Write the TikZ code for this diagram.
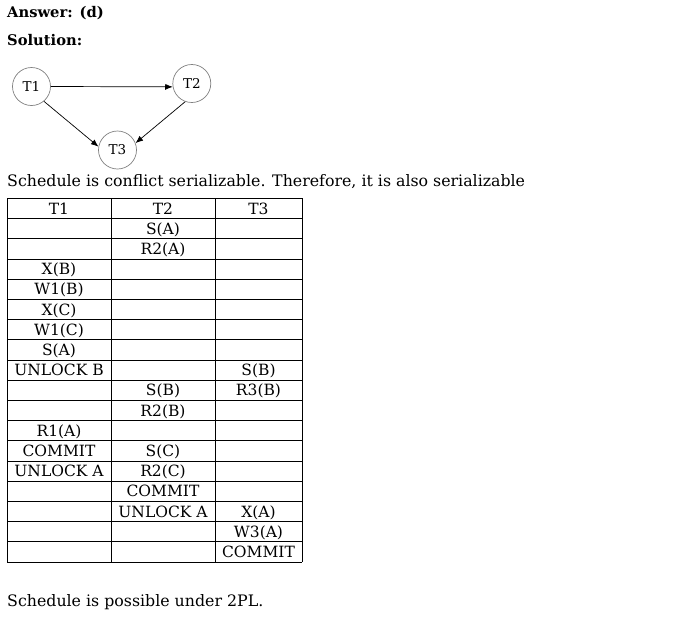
\documentclass[tikz,border=0pt]{standalone}
\usepackage{fontspec}
\setmainfont{DejaVu Serif}
\usetikzlibrary{positioning, arrows.meta}

\tikzset{
  txn/.style={circle, draw=black!50, line width=0.7pt, minimum size=38pt, inner sep=0pt, font=\fontsize{13.5}{16}\selectfont},
  para/.style={anchor=base west, inner sep=0pt, font=\fontsize{15.8}{18}\selectfont},
  head/.style={para, font=\bfseries\fontsize{14.7}{18}\selectfont},
  cell/.style={anchor=base, inner sep=0pt, font=\fontsize{15.5}{18}\selectfont},
}

\begin{document}
\begin{tikzpicture}[x=1pt, y=-1pt, >={Latex[length=7.5pt,width=6pt]}]
\useasboundingbox (0,0) rectangle (678,619);

% Text
\node[head] (answer) at (7,17) {Answer: (d)};
\node[head] (solution) at (7,45) {Solution:};
\node[para] (conflict) at (7,186) {Schedule is conflict serializable. Therefore, it is also serializable};
\node[para] (twopl) at (7,606) {Schedule is possible under 2PL.};

% Nodes
\node[txn] (T1) at (31.5,86.5) {T1};
\node[txn] (T2) at (191.8,83.5) {T2};
\node[txn] (T3) at (117.5,150) {T3};

% Arrows
\draw[->, line width=0.7pt] (T1.east) -- (T2.190);
\draw[->, line width=0.7pt] (T1.-50) -- (T3.170);
\draw[->, line width=0.7pt] (T2.-110) -- (T3.21);

% Table
\foreach \r in {0,...,18}
  \draw[line width=0.8pt] (7,{198.3+\r*20.21}) -- (302,{198.3+\r*20.21});
\foreach \x in {7,111,215,302}
  \draw[line width=0.8pt] (\x,198.3) -- (\x,562);

\foreach \r/\col/\t in {0/1/T1, 0/2/T2, 0/3/T3, 1/2/S(A), 2/2/R2(A),
    3/1/X(B), 4/1/W1(B), 5/1/X(C), 6/1/W1(C), 7/1/S(A),
    8/1/UNLOCK B, 8/3/S(B), 9/2/S(B), 9/3/R3(B), 10/2/R2(B),
    11/1/R1(A), 12/1/COMMIT, 12/2/S(C), 13/1/UNLOCK A, 13/2/R2(C),
    14/2/COMMIT, 15/2/UNLOCK A, 15/3/X(A), 16/3/W3(A), 17/3/COMMIT}{
  \pgfmathsetmacro\cx{{59,163,258.5}[\col-1]}
  \node[cell] (c\r-\col) at (\cx,{198.3+(\r+0.5)*20.21+5.6}) {\t};
}

\end{tikzpicture}
\end{document}
